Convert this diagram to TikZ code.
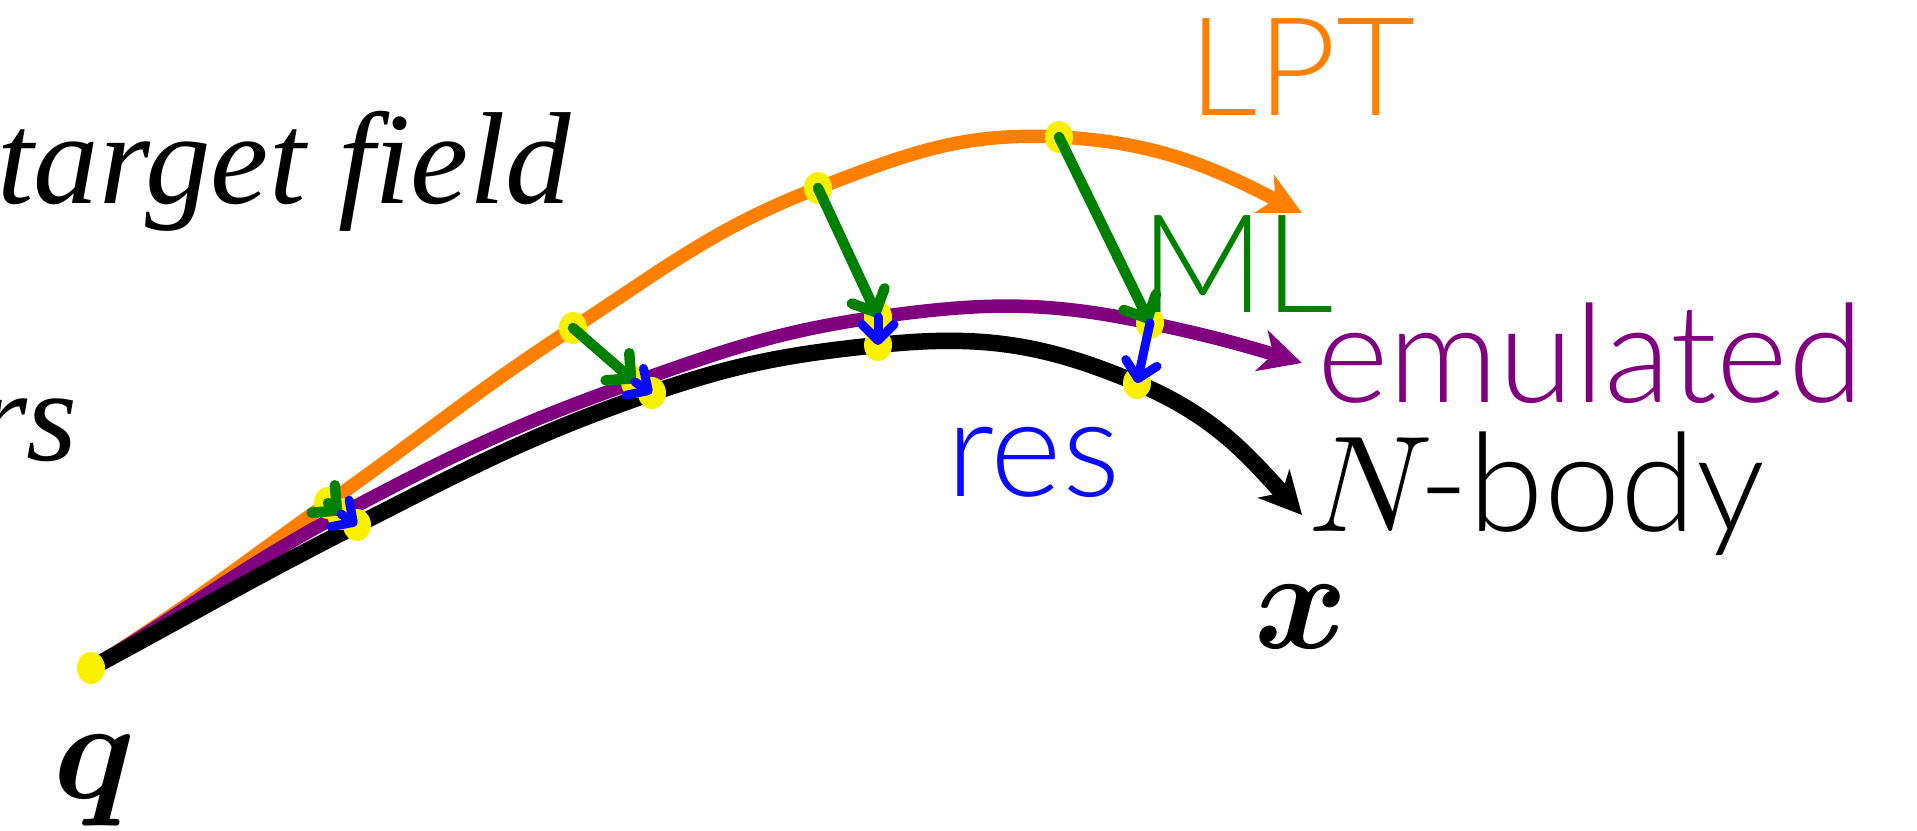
\documentclass[tikz,border=0pt]{standalone}
\usepackage{fontspec}
\newfontfamily\lato{Lato Light}
\newfontfamily\seri{Liberation Serif}
\usetikzlibrary{arrows.meta,shapes.geometric}
\definecolor{orC}{RGB}{255,128,0}
\definecolor{puC}{RGB}{128,0,128}
\definecolor{grC}{RGB}{0,128,0}
\definecolor{blC}{RGB}{10,10,255}
\definecolor{yeC}{RGB}{250,240,0}
\newcommand{\bmit}[1]{{\fontsize{10}{12}\usefont{OML}{cmm}{b}{it}#1}}
\newcommand{\mmit}[1]{{\fontsize{10}{12}\usefont{OML}{cmm}{m}{it}#1}}
\tikzset{
  lbl/.style={inner sep=0pt, outer sep=0pt, anchor=base west, font=\lato\fontsize{137}{140}\selectfont},
  bigit/.style={inner sep=0pt, outer sep=0pt, anchor=base east, font=\seri\itshape\fontsize{131}{140}\selectfont},
  mathlbl/.style={inner sep=0pt, outer sep=0pt, anchor=base},
  dot/.style={ellipse, fill=yeC, draw=none, minimum width=28pt, minimum height=32pt, inner sep=0pt},
  traj/.style={line width=#1, -{Stealth[length=42pt, width=42pt, inset=12pt]}},
  mlarrow/.style={draw=grC, line width=10.5pt, line cap=round, -{Straight Barb[length=18pt, width=36pt, round]}},
  resarrow/.style={draw=blC, line width=9pt, line cap=round, -{Straight Barb[length=16pt, width=32pt, round]}}
}
\begin{document}
\begin{tikzpicture}[x=1pt,y=-1pt]
\useasboundingbox (0,0) rectangle (1917,830);
% trajectory points
\coordinate (q) at (91,668);
\coordinate (o1) at (328,503);
\coordinate (o2) at (573,328);
\coordinate (o3) at (818,188);
\coordinate (o4) at (1059,137);
\coordinate (otip) at (1302,213);
\coordinate (p1) at (341,514);
\coordinate (p2) at (635,382);
\coordinate (p3) at (878,317);
\coordinate (p4) at (1150,323);
\coordinate (ptip) at (1302,363);
\coordinate (b1) at (357,525);
\coordinate (b2) at (652,393);
\coordinate (b3) at (878,345);
\coordinate (b4) at (1137,383);
\coordinate (btip) at (1302,515);
% curves
\draw[orC, traj=13.5pt] (q) to[out=32,in=215.2] (o1) to[out=35.2,in=213] (o2)
   to[out=33,in=201] (o3) to[out=21,in=177] (o4) to[out=-3,in=153] (otip);
\draw[puC, traj=13.5pt] (q) to[out=31,in=208] (p1) to[out=28,in=199.5] (p2)
   to[out=19.5,in=188] (p3) to[out=8,in=168] (p4) to[out=-12,in=163] (ptip);
\draw[black, traj=16.5pt] (q) to[out=28.3,in=207] (b1) to[out=27,in=199] (b2)
   to[out=19,in=186] (b3) to[out=6,in=157] (b4) to[out=-23,in=132] (btip);
% dots
\foreach \c in {q,o1,o2,o3,o4,p1,p2,p3,p4,b1,b2,b3,b4} {
  \node[dot] (d\c) at (\c) {};
}
% ML corrections
\draw[mlarrow] (do1.center) -- (dp1.center);
\draw[mlarrow] (do2.center) -- (dp2.center);
\draw[mlarrow] (do3.center) -- (dp3.center);
\draw[mlarrow] (do4.center) -- (dp4.center);
% residual corrections
\draw[resarrow] (dp1.center) -- (db1.center);
\draw[resarrow] (dp2.center) -- (db2.center);
\draw[resarrow] (dp3.center) -- (db3.center);
\draw[resarrow] (dp4.center) -- (db4.center);
% labels
\node[lbl, text=orC] (lpt) at (1188,115) {LPT};
\node[lbl, text=grC] (ml) at (1140,312) {ML};
\node[lbl, text=puC] (emu) at (1317,402) {emulated};
\node[lbl, text=blC] (res) at (946,496) {res};
\node[lbl, text=black] (nbody) at (1308,531) {\scalebox{13.7}{\mmit{N}}-body};
\node[mathlbl] (xl) at (1301,648) {\scalebox{14.2}{\bmit{x}}};
\node[mathlbl] (ql) at (92,798) {\scalebox{14.2}{\bmit{q}}};
\node[bigit] (tf) at (571,203) {target field};
\node[bigit] (rs) at (78,460) {rs};
\end{tikzpicture}
\end{document}
